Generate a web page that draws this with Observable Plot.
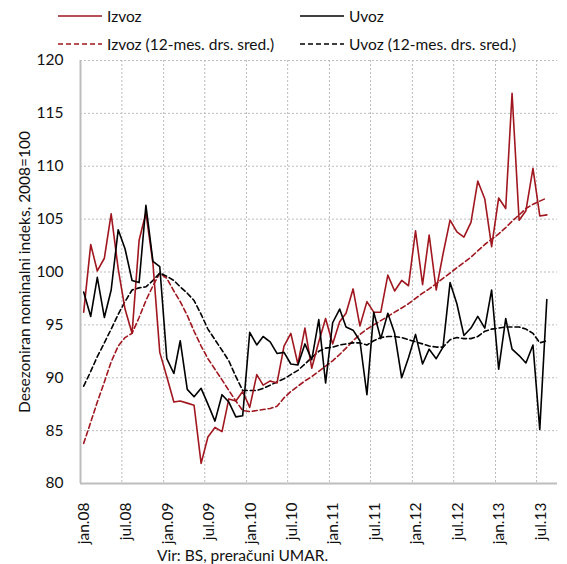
<!DOCTYPE html>
<html><head><meta charset="utf-8">
<script src="https://cdn.jsdelivr.net/npm/d3@7"></script>
<script src="https://cdn.jsdelivr.net/npm/@observablehq/plot@0.6"></script>
<style>
body{margin:0;background:#fff;font-family:Lato,"Open Sans",sans-serif;color:#111;}
#wrap{position:relative;width:567px;height:564px;overflow:hidden;background:#fff;}
.sw{position:absolute;}
.lt{position:absolute;font-size:15.5px;line-height:18px;white-space:nowrap;}
#chart{position:absolute;left:0;top:55px;}
#foot{position:absolute;left:157px;top:546px;font-size:15.5px;line-height:18px;white-space:nowrap;}
</style></head><body>
<div id="wrap">
  <svg class="sw" style="left:58px;top:11px" width="44" height="10"><line x1="0" x2="44" y1="5" y2="5" stroke="#a0171f" stroke-width="1.6"/></svg>
  <div class="lt" style="left:107px;top:7px">Izvoz</div>
  <svg class="sw" style="left:300px;top:11px" width="44" height="10"><line x1="0" x2="44" y1="5" y2="5" stroke="#000" stroke-width="1.6"/></svg>
  <div class="lt" style="left:349px;top:7px">Uvoz</div>
  <svg class="sw" style="left:58px;top:39px" width="44" height="10"><line x1="0" x2="44" y1="5" y2="5" stroke="#a0171f" stroke-width="1.6" stroke-dasharray="5,3"/></svg>
  <div class="lt" style="left:107px;top:35px">Izvoz (12-mes. drs. sred.)</div>
  <svg class="sw" style="left:300px;top:39px" width="44" height="10"><line x1="0" x2="44" y1="5" y2="5" stroke="#000" stroke-width="1.6" stroke-dasharray="5,3"/></svg>
  <div class="lt" style="left:349px;top:35px">Uvoz (12-mes. drs. sred.)</div>
  <div id="chart"></div>
  <div id="foot">Vir: BS, preračuni UMAR.</div>
</div>
<script>
const tickLabels = ["jan.08","jul.08","jan.09","jul.09","jan.10","jul.10","jan.11","jul.11","jan.12","jul.12","jan.13","jul.13"];
const yTicks = [80,85,90,95,100,105,110,115,120];

const izvoz = [96.2,102.6,100.1,101.3,105.5,100.3,96.5,94.2,103.0,105.6,
100.8,92.4,90.1,87.7,87.8,87.6,87.4,81.9,84.4,85.3,
84.9,88.0,87.8,88.7,87.2,90.3,89.3,89.7,89.5,93.0,
94.2,91.3,94.7,90.9,93.4,95.6,93.2,95.3,96.1,98.4,
94.9,97.2,96.2,96.2,99.7,98.2,99.2,98.7,103.9,98.8,
103.5,98.3,101.7,104.9,103.8,103.3,104.7,108.6,106.9,102.4,
107.0,106.0,116.9,104.9,105.8,109.8,105.3,105.4];

const uvoz = [98.1,95.8,99.5,95.7,98.3,104.0,102.2,99.2,99.0,106.3,
101.0,100.5,91.8,90.4,93.5,88.9,88.2,89.0,87.5,85.9,
88.4,87.7,86.3,86.4,94.3,93.1,93.9,93.4,92.3,92.4,
91.3,91.2,93.2,91.7,95.5,89.5,95.2,96.5,94.8,94.5,
93.5,88.4,96.2,93.7,96.1,94.2,90.0,91.9,94.1,91.3,
92.7,91.8,92.9,99.0,97.0,94.0,94.7,95.8,94.7,98.3,
90.8,95.6,92.7,92.1,91.4,93.1,85.1,97.4];

const izvozAvg = [83.8,85.8,87.7,89.6,91.5,93.0,93.8,94.2,95.7,97.3,
98.7,99.9,99.4,98.2,97.2,95.9,94.4,93.0,91.8,90.8,
89.8,88.8,87.8,86.9,86.8,86.9,87.0,87.1,87.3,88.1,
88.7,89.2,89.7,90.1,90.6,91.1,91.6,92.2,92.8,93.5,
94.1,94.6,95.0,95.4,95.8,96.2,96.6,97.0,97.5,98.0,
98.4,98.9,99.4,99.9,100.4,100.9,101.4,102.0,102.6,103.1,
103.6,104.2,104.8,105.4,106.0,106.4,106.7,107.0];

const uvozAvg = [89.2,90.6,92.0,93.3,94.6,96.0,97.2,98.3,98.5,98.6,
99.2,99.9,99.6,99.2,98.6,98.0,97.3,96.0,94.6,93.6,
92.6,91.6,90.1,88.8,88.8,88.8,89.0,89.3,89.6,89.9,
90.3,90.7,91.3,91.9,92.5,92.8,92.9,93.1,93.2,93.3,
93.3,93.1,93.5,93.8,93.9,93.9,93.8,93.6,93.4,93.2,
93.0,92.9,92.9,93.6,93.8,93.7,93.7,93.9,94.4,94.6,
94.7,94.8,94.8,94.8,94.6,94.2,93.3,93.5];

const RED = "#a0171f";
const t0 = new Date(Date.UTC(2008, 0, 1));
const t1 = new Date(Date.UTC(2013, 9, 1));
const rows = izvoz.map((v, i) => ({
  date: new Date(Date.UTC(2008, i, 15)),
  izvoz: v, uvoz: uvoz[i], izvozAvg: izvozAvg[i], uvozAvg: uvozAvg[i]
}));
const tickDates = tickLabels.map((_, k) => new Date(Date.UTC(2008, 6 * k, 1)));
const labelMap = new Map(tickDates.map((d, k) => [+d, tickLabels[k]]));
const grid = {stroke: "#bcbcbc", strokeOpacity: 1, strokeDasharray: "2,2", strokeWidth: 1};

const chart = Plot.plot({
  width: 567, height: 488,
  marginLeft: 80, marginRight: 10, marginTop: 5, marginBottom: 60,
  style: {fontFamily: "Lato, 'Open Sans', sans-serif", fontSize: "15.5px", color: "#111", background: "#fff", overflow: "visible"},
  x: {type: "utc", domain: [t0, t1]},
  y: {domain: [80, 120]},
  marks: [
    Plot.gridY({ticks: yTicks, ...grid}),
    Plot.gridX({ticks: tickDates, ...grid}),
    Plot.axisY({ticks: yTicks, tickSize: 0, tickPadding: 17, label: "Desezoniran nominalni indeks, 2008=100", labelAnchor: "center", labelArrow: "none", labelOffset: 62}),
    Plot.axisX({ticks: tickDates, tickSize: 0, tickPadding: 19, tickRotate: -90, dx: 4, fontSize: 15.5, tickFormat: d => labelMap.get(+d), label: null}),
    Plot.ruleY([80], {stroke: "#bdbdbd", strokeWidth: 2}),
    Plot.ruleX([t0], {stroke: "#bdbdbd", strokeWidth: 2}),
    Plot.line(rows, {x: "date", y: "izvozAvg", stroke: RED, strokeWidth: 1.6, strokeDasharray: "5,3"}),
    Plot.line(rows, {x: "date", y: "uvozAvg", stroke: "#000", strokeWidth: 1.6, strokeDasharray: "5,3"}),
    Plot.line(rows, {x: "date", y: "izvoz", stroke: RED, strokeWidth: 1.6}),
    Plot.line(rows, {x: "date", y: "uvoz", stroke: "#000", strokeWidth: 1.6})
  ]
});
document.getElementById("chart").appendChild(chart);
</script>
</body></html>
